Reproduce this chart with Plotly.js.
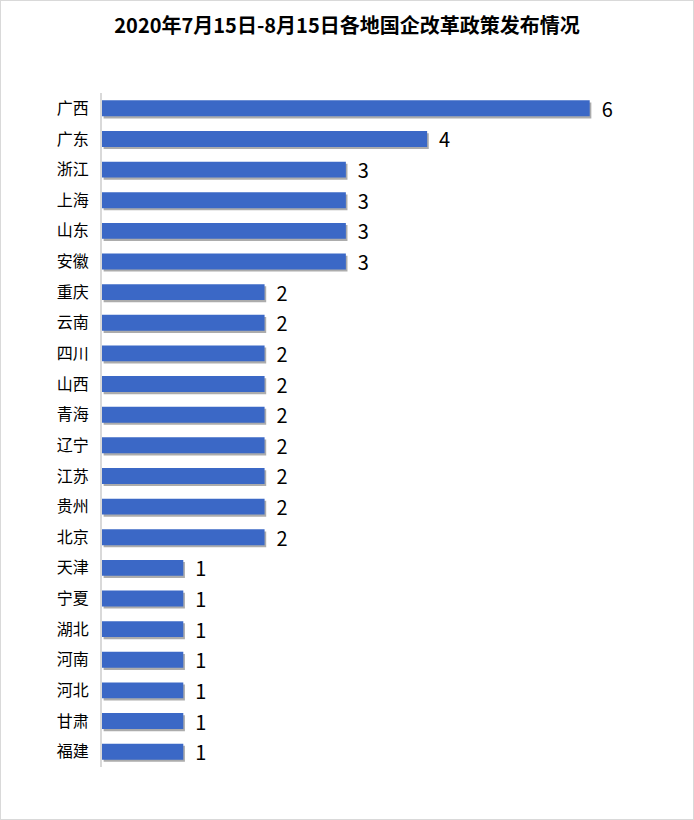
<!DOCTYPE html>
<html>
<head>
<meta charset="utf-8">
<script src="https://cdn.plot.ly/plotly-3.0.1.min.js"></script>
<style>
html,body{margin:0;padding:0;background:#fff;}
#chart{width:692px;height:818px;border:1px solid #d9d9d9;}
</style>
</head>
<body>
<div id="chart"></div>
<script>
const regions = ["广西","广东","浙江","上海","山东","安徽","重庆","云南","四川","山西","青海","辽宁","江苏","贵州","北京","天津","宁夏","湖北","河南","河北","甘肃","福建"];
const counts = [6,4,3,3,3,3,2,2,2,2,2,2,2,2,2,1,1,1,1,1,1,1];
const titleText = "2020年7月15日-8月15日各地国企改革政策发布情况";

const font = "'Noto Sans CJK SC', 'Microsoft YaHei', sans-serif";

const data = [
{
  // soft drop shadow (drawn on the lower subplot)
  type: 'bar', orientation: 'h', y: regions, x: counts, xaxis: 'x',
  width: 0.52, offset: -0.19,
  marker: {color: 'rgba(90,90,90,0.5)', line: {width: 0}},
  hoverinfo: 'none'
},
{
  type: 'bar', orientation: 'h', y: regions, x: counts, xaxis: 'x2',
  width: 0.52, offset: -0.26,
  marker: {color: '#3b68c6', line: {width: 0}},
  text: counts.map(v => '\u00a0\u00a0' + v),
  textposition: 'outside',
  constraintext: 'none',
  cliponaxis: false,
  textfont: {family: font, size: 20, color: '#000'},
  hoverinfo: 'none'
}];

const layout = {
  width: 692, height: 818,
  margin: {l: 101, r: 22, t: 92, b: 52},
  paper_bgcolor: '#fff', plot_bgcolor: '#fff',
  showlegend: false, barmode: 'overlay',
  title: {text: '<b>' + titleText + '</b>', x: 0.5, xanchor: 'center', y: 0.97, yanchor: 'middle', yref: 'container',
          font: {family: font, size: 20, color: '#000'}},
  xaxis: {range: [-0.02, 6.98], showgrid: false, zeroline: false, showticklabels: false, showline: false, fixedrange: true},
  xaxis2: {range: [0, 7], overlaying: 'x', showgrid: false, zeroline: false, showticklabels: false, showline: false, fixedrange: true},
  yaxis: {type: 'category', autorange: 'reversed', showgrid: false, zeroline: false,
          showline: true, linecolor: '#d9d9d9', linewidth: 2,
          ticks: 'outside', ticklen: 8, tickcolor: 'rgba(0,0,0,0)',
          tickfont: {family: font, size: 16, color: '#000'}, fixedrange: true}
};

Plotly.newPlot('chart', data, layout, {displayModeBar: false, staticPlot: true});
</script>
</body>
</html>
